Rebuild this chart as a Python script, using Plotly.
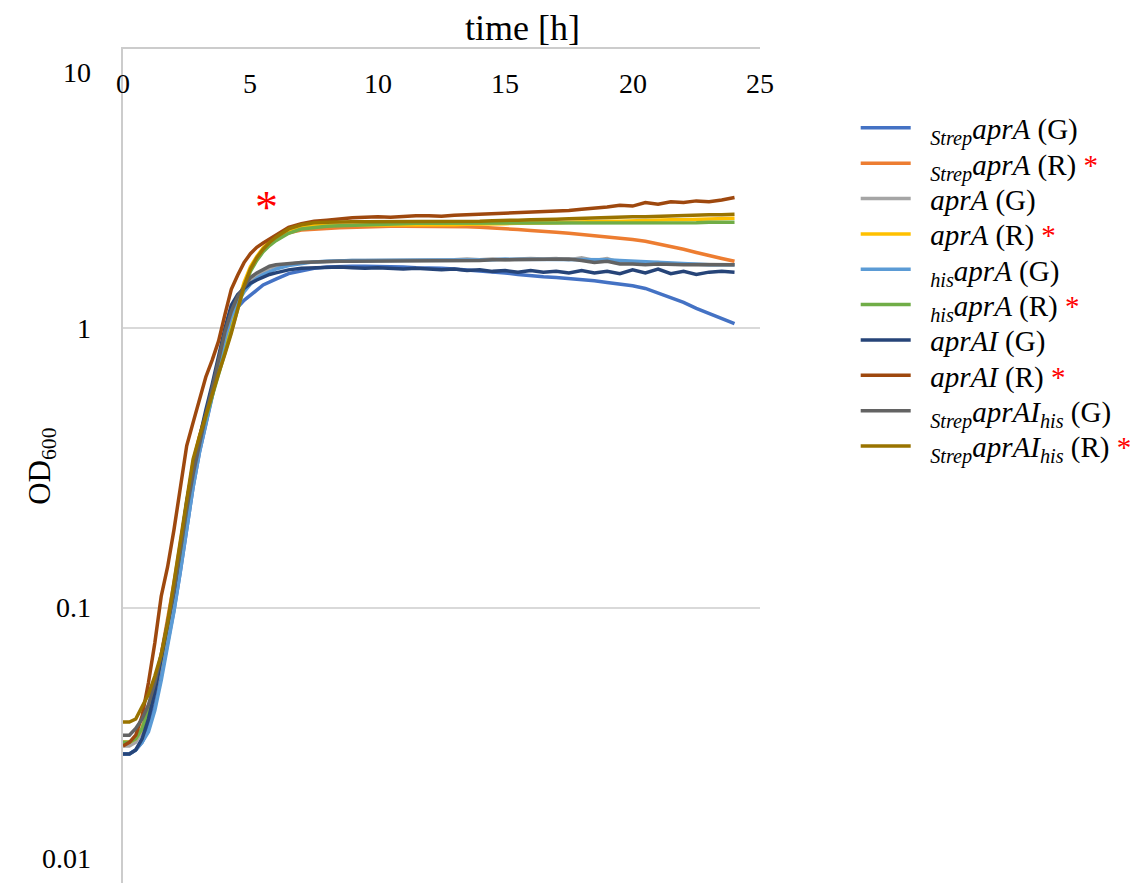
import math
import plotly.graph_objects as go

# ---- data -------------------------------------------------------------
TIME_H = [0, 0.25, 0.5, 0.75, 1.0, 1.25, 1.5, 1.75, 2.0, 2.25, 2.5, 2.75, 3.0,
          3.25, 3.5, 3.75, 4.0, 4.25, 4.5, 4.75, 5.0, 5.25, 5.5, 5.75, 6.0,
          6.5, 7, 7.5, 8, 8.5, 9, 9.5, 10, 10.5, 11, 11.5, 12, 12.5, 13, 13.5,
          14, 14.5, 15, 15.5, 16, 16.5, 17, 17.5, 18, 18.5, 19, 19.5, 20, 20.5,
          21, 21.5, 22, 22.5, 23, 23.5, 24]

strep_aprA_G = [0.030, 0.030, 0.031, 0.033, 0.037, 0.045, 0.057, 0.075, 0.098, 0.135,
                0.19, 0.27, 0.36, 0.46, 0.57, 0.72, 0.90, 1.08, 1.19, 1.26,
                1.31, 1.37, 1.43, 1.47, 1.50,
                1.57, 1.61, 1.64, 1.66, 1.67, 1.67, 1.67, 1.67, 1.66, 1.66,
                1.65, 1.65, 1.64, 1.63, 1.62, 1.61, 1.60, 1.58, 1.56, 1.54,
                1.53, 1.52, 1.51, 1.50, 1.48, 1.46, 1.44, 1.42, 1.39, 1.34,
                1.29, 1.24, 1.18, 1.13, 1.08, 1.04]
strep_aprA_R = [0.033, 0.033, 0.034, 0.037, 0.043, 0.053, 0.068, 0.090, 0.122, 0.17,
                0.24, 0.33, 0.41, 0.50, 0.60, 0.71, 0.84, 1.00, 1.20, 1.42,
                1.62, 1.77, 1.90, 2.00, 2.08,
                2.20, 2.25, 2.27, 2.28, 2.29, 2.30, 2.31, 2.32, 2.32, 2.32,
                2.32, 2.32, 2.32, 2.31, 2.31, 2.30, 2.29, 2.27, 2.26, 2.24,
                2.23, 2.21, 2.19, 2.17, 2.15, 2.13, 2.11, 2.08, 2.05, 2.01,
                1.97, 1.92, 1.87, 1.82, 1.78, 1.74]
aprA_G = [0.032, 0.032, 0.033, 0.036, 0.041, 0.050, 0.064, 0.084, 0.11, 0.155,
          0.22, 0.30, 0.39, 0.49, 0.60, 0.75, 0.95, 1.13, 1.28, 1.39,
          1.48, 1.55, 1.60, 1.64, 1.67,
          1.70, 1.72, 1.73, 1.74, 1.74, 1.75, 1.75, 1.75, 1.75, 1.75,
          1.76, 1.75, 1.76, 1.76, 1.77, 1.76, 1.77, 1.76, 1.77, 1.78,
          1.77, 1.78, 1.76, 1.79, 1.75, 1.78, 1.72, 1.73, 1.71, 1.72,
          1.70, 1.70, 1.70, 1.69, 1.69, 1.69]
aprA_R = [0.033, 0.033, 0.034, 0.037, 0.043, 0.052, 0.066, 0.087, 0.118, 0.165,
          0.235, 0.33, 0.41, 0.49, 0.58, 0.69, 0.83, 1.00, 1.22, 1.46,
          1.66, 1.81, 1.94, 2.04, 2.12,
          2.24, 2.30, 2.33, 2.34, 2.34, 2.34, 2.34, 2.34, 2.34, 2.34,
          2.34, 2.34, 2.35, 2.35, 2.36, 2.36, 2.37, 2.37, 2.38, 2.38,
          2.39, 2.39, 2.40, 2.41, 2.41, 2.42, 2.42, 2.43, 2.43, 2.44,
          2.45, 2.45, 2.46, 2.46, 2.47, 2.48]
his_aprA_G = [0.030, 0.030, 0.031, 0.033, 0.036, 0.043, 0.055, 0.073, 0.097, 0.135,
              0.19, 0.27, 0.36, 0.46, 0.58, 0.73, 0.92, 1.10, 1.24, 1.35,
              1.44, 1.51, 1.56, 1.60, 1.63,
              1.68, 1.71, 1.73, 1.74, 1.75, 1.75, 1.75, 1.75, 1.75, 1.75,
              1.75, 1.75, 1.75, 1.76, 1.76, 1.76, 1.76, 1.77, 1.77, 1.77,
              1.76, 1.77, 1.77, 1.76, 1.77, 1.76, 1.75, 1.74, 1.73, 1.72,
              1.71, 1.70, 1.70, 1.69, 1.69, 1.69]
his_aprA_R = [0.033, 0.033, 0.034, 0.037, 0.043, 0.052, 0.066, 0.086, 0.116, 0.16,
              0.23, 0.32, 0.40, 0.48, 0.57, 0.68, 0.81, 0.97, 1.17, 1.40,
              1.60, 1.75, 1.88, 1.98, 2.06,
              2.19, 2.27, 2.30, 2.32, 2.33, 2.34, 2.35, 2.36, 2.37, 2.37,
              2.38, 2.38, 2.38, 2.38, 2.38, 2.38, 2.38, 2.38, 2.38, 2.38,
              2.38, 2.38, 2.38, 2.38, 2.38, 2.38, 2.38, 2.39, 2.39, 2.39,
              2.39, 2.39, 2.39, 2.40, 2.40, 2.40]
aprAI_G = [0.030, 0.030, 0.031, 0.034, 0.040, 0.050, 0.066, 0.088, 0.115, 0.165,
           0.24, 0.32, 0.41, 0.51, 0.63, 0.79, 1.00, 1.21, 1.32, 1.39,
           1.45, 1.49, 1.53, 1.56, 1.58,
           1.62, 1.64, 1.65, 1.65, 1.66, 1.65, 1.64, 1.65, 1.64, 1.63,
           1.64, 1.63, 1.62, 1.63, 1.61, 1.62, 1.60, 1.61, 1.59, 1.61,
           1.59, 1.60, 1.58, 1.61, 1.58, 1.60, 1.57, 1.62, 1.58, 1.63,
           1.57, 1.60, 1.56, 1.59, 1.60, 1.59]
aprAI_R = [0.032, 0.033, 0.035, 0.041, 0.054, 0.075, 0.110, 0.140, 0.19, 0.27,
           0.38, 0.46, 0.56, 0.67, 0.77, 0.90, 1.12, 1.38, 1.55, 1.72,
           1.85, 1.95, 2.02, 2.09, 2.16,
           2.30, 2.37, 2.42, 2.44, 2.47, 2.49, 2.50, 2.51, 2.50, 2.52,
           2.53, 2.53, 2.52, 2.54, 2.55, 2.56, 2.57, 2.58, 2.59, 2.60,
           2.61, 2.63, 2.64, 2.67, 2.69, 2.72, 2.76, 2.74, 2.82, 2.78,
           2.84, 2.82, 2.86, 2.84, 2.88, 2.94]
strep_aprAI_his_G = [0.035, 0.035, 0.037, 0.040, 0.045, 0.054, 0.068, 0.088, 0.115, 0.16,
                     0.225, 0.30, 0.39, 0.49, 0.61, 0.76, 0.97, 1.15, 1.30, 1.41,
                     1.52, 1.58, 1.63, 1.67, 1.69,
                     1.71, 1.72, 1.73, 1.74, 1.74, 1.74, 1.74, 1.74, 1.74, 1.74,
                     1.74, 1.74, 1.75, 1.75, 1.75, 1.75, 1.76, 1.76, 1.77, 1.76,
                     1.77, 1.76, 1.77, 1.75, 1.72, 1.74, 1.70, 1.70, 1.69, 1.70,
                     1.69, 1.69, 1.69, 1.69, 1.69, 1.69]
strep_aprAI_his_R = [0.039, 0.039, 0.040, 0.044, 0.049, 0.057, 0.068, 0.088, 0.122, 0.175,
                     0.245, 0.34, 0.41, 0.49, 0.58, 0.69, 0.81, 0.96, 1.17, 1.42,
                     1.63, 1.79, 1.92, 2.03, 2.12,
                     2.27, 2.35, 2.39, 2.40, 2.41, 2.41, 2.41, 2.41, 2.41, 2.41,
                     2.41, 2.41, 2.41, 2.41, 2.42, 2.42, 2.43, 2.43, 2.44, 2.45,
                     2.45, 2.46, 2.47, 2.48, 2.48, 2.49, 2.50, 2.51, 2.51, 2.52,
                     2.53, 2.53, 2.54, 2.55, 2.55, 2.56]

STAR = " <span style='color:#ff0000'>*</span>"
PAD = "\u00a0\u00a0"
SERIES_NAMES = [
    "<i><sub>Strep</sub>aprA</i> (G)",
    "<i><sub>Strep</sub>aprA</i> (R)" + STAR,
    "<i>aprA</i> (G)",
    "<i>aprA</i> (R)" + STAR,
    "<i><sub>his</sub>aprA</i> (G)",
    "<i><sub>his</sub>aprA</i> (R)" + STAR,
    "<i>aprAI</i> (G)",
    "<i>aprAI</i> (R)" + STAR,
    "<i><sub>Strep</sub>aprAI<sub>his</sub></i> (G)",
    "<i><sub>Strep</sub>aprAI<sub>his</sub></i> (R)" + STAR,
]
SERIES_VALUES = [strep_aprA_G, strep_aprA_R, aprA_G, aprA_R, his_aprA_G, his_aprA_R,
                 aprAI_G, aprAI_R, strep_aprAI_his_G, strep_aprAI_his_R]
SERIES_COLORS = ["#4472C4", "#ED7D31", "#A5A5A5", "#FFC000", "#5B9BD5", "#70AD47",
                 "#264478", "#9E480E", "#636363", "#997300"]

X_TICKS = [0, 5, 10, 15, 20, 25]
X_TICK_LABELS = ["0", "5", "10", "15", "20", "25"]
Y_TICKS = [10, 1, 0.1, 0.01]
Y_TICK_LABELS = ["10", "1", "0.1", "0.01"]

# ---- figure -----------------------------------------------------------
FONT = "Liberation Serif, Times New Roman, serif"
W, H = 1137, 883
ML, MR, MT, MB = 123, 375, 49, 0
PLOT_W, PLOT_H = W - ML - MR, H - MT - MB

fig = go.Figure()
legend_layouts = {}
for i, (name, vals, col) in enumerate(zip(SERIES_NAMES, SERIES_VALUES, SERIES_COLORS)):
    lg = "legend" if i == 0 else "legend%d" % (i + 1)
    fig.add_trace(go.Scatter(x=TIME_H, y=vals, name=PAD + name, mode="lines",
                             legend=lg, line=dict(color=col, width=3.5)))
    row_px = 128 + 35.35 * i
    legend_layouts[lg] = dict(
        x=(858 - ML) / PLOT_W, y=(H - row_px) / PLOT_H,
        xanchor="left", yanchor="middle",
        font=dict(family=FONT, size=29, color="black"),
        itemwidth=50, bgcolor="rgba(0,0,0,0)", borderwidth=0)

tick_font = dict(family=FONT, size=28, color="black")
annotations = []
for v, lab in zip(Y_TICKS, Y_TICK_LABELS):
    lv = math.log10(v)
    if lv >= 1:
        annotations.append(dict(x=0, xref="paper", y=lv, yref="y", text=lab,
                                showarrow=False, xanchor="right", yanchor="middle",
                                xshift=-30, yshift=-23, font=tick_font))
    elif lv <= -2:
        annotations.append(dict(x=0, xref="paper", y=0, yref="paper", text=lab,
                                showarrow=False, xanchor="right", yanchor="middle",
                                xshift=-30, yshift=25, font=tick_font))
    else:
        annotations.append(dict(x=0, xref="paper", y=lv, yref="y", text=lab,
                                showarrow=False, xanchor="right", yanchor="middle",
                                xshift=-30, font=tick_font))
for v, lab in zip(X_TICKS, X_TICK_LABELS):
    annotations.append(dict(x=v, xref="x", y=1, yref="paper", text=lab,
                            showarrow=False, xanchor="center", yanchor="middle",
                            yshift=-34, font=tick_font))

annotations.append(dict(x=0.6275, xref="paper", y=(H - 28) / PLOT_H, yref="paper",
                        yanchor="middle", text="time [h]", showarrow=False,
                        font=dict(family=FONT, size=36, color="black")))
annotations.append(dict(x=-0.162, xref="paper", y=0.5, yref="paper", textangle=-90,
                        text="OD<sub>600</sub>", showarrow=False,
                        font=dict(family=FONT, size=31, color="black")))
annotations.append(dict(x=5.63, xref="x", y=0.432, yref="y", text="*", showarrow=False,
                        font=dict(family=FONT, size=46, color="#ff0000")))

fig.update_layout(
    width=W, height=H,
    margin=dict(l=ML, r=MR, t=MT, b=MB),
    paper_bgcolor="white", plot_bgcolor="white",
    font=dict(family=FONT, color="black"),
    showlegend=True,
    annotations=annotations,
    **legend_layouts,
)
fig.update_xaxes(side="top", range=[0, 25], tickvals=X_TICKS, showticklabels=False,
                 ticks="", showgrid=False, zeroline=False,
                 showline=True, linecolor="#cccccc", linewidth=1.5)
fig.update_yaxes(type="log", range=[-1.985, 1], tickvals=Y_TICKS, showticklabels=False,
                 ticks="", showgrid=True, gridcolor="#d9d9d9", gridwidth=1.5,
                 showline=True, linecolor="#cccccc", linewidth=1.5, zeroline=False)

fig.write_html("out.html")
